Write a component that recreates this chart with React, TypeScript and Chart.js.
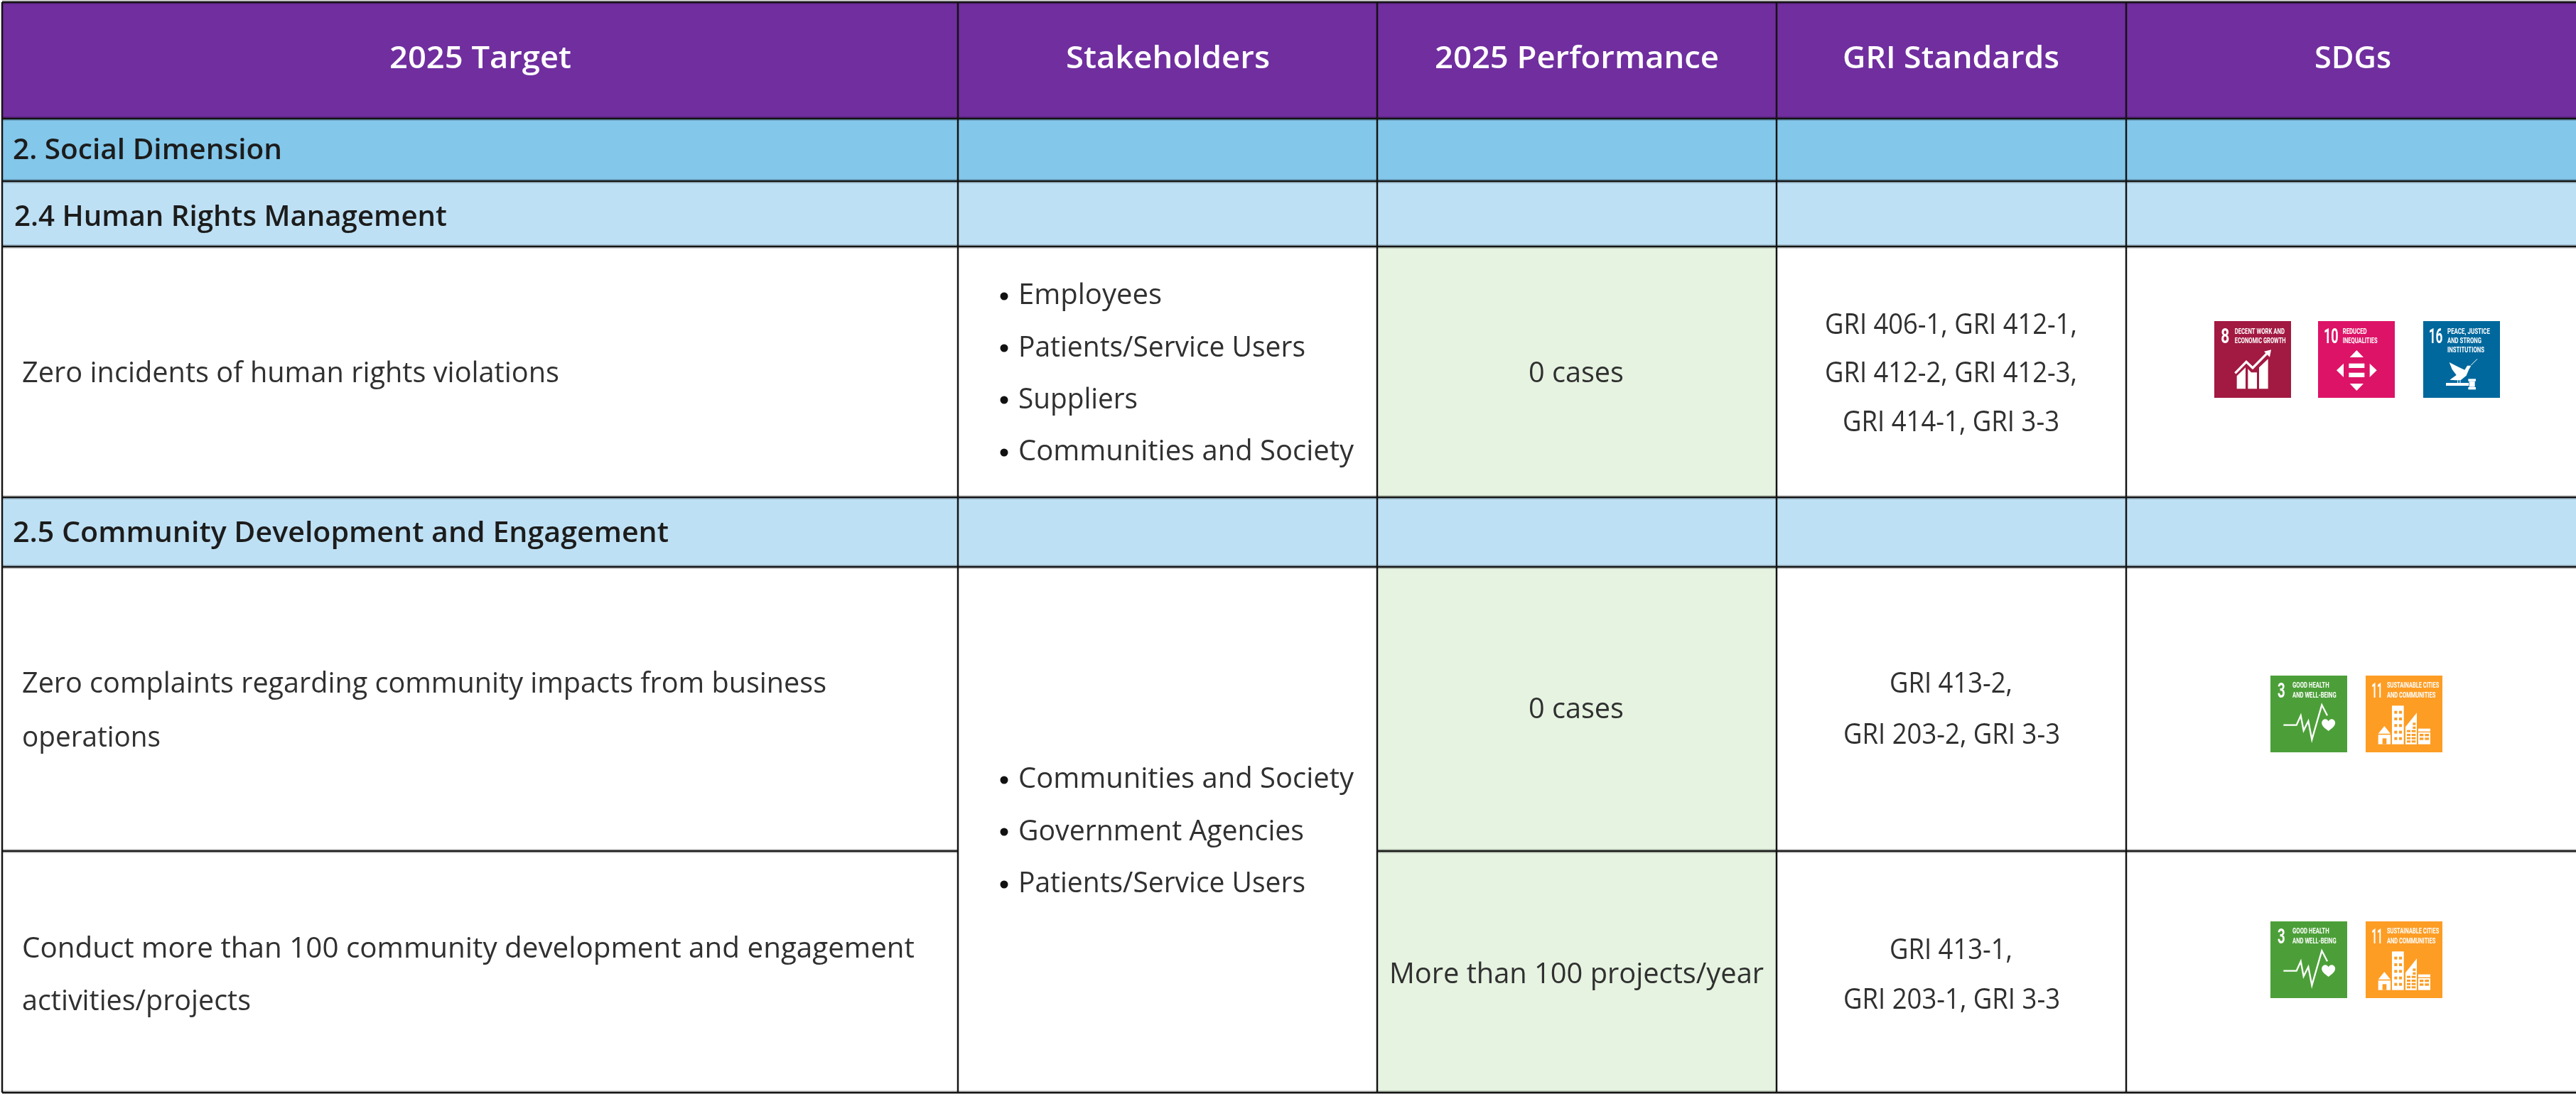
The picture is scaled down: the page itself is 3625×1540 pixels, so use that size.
import React, { useEffect, useRef } from "react";
import { Chart, registerables } from "chart.js";

Chart.register(...registerables);

// ---------- table content ----------
const headers = ["2025 Target", "Stakeholders", "2025 Performance", "GRI Standards", "SDGs"];
const sectionLabels = ["2. Social Dimension", "2.4 Human Rights Management", "2.5 Community Development and Engagement"];
const targetLines = [
  "Zero incidents of human rights violations",
  "Zero complaints regarding community impacts from business",
  "operations",
  "Conduct more than 100 community development and engagement",
  "activities/projects",
];
const stakeholderGroupA = ["Employees", "Patients/Service Users", "Suppliers", "Communities and Society"];
const stakeholderGroupB = ["Communities and Society", "Government Agencies", "Patients/Service Users"];
const performance = ["0 cases", "0 cases", "More than 100 projects/year"];
const griLines = [
  "GRI 406-1, GRI 412-1,",
  "GRI 412-2, GRI 412-3,",
  "GRI 414-1, GRI 3-3",
  "GRI 413-2,",
  "GRI 203-2, GRI 3-3",
  "GRI 413-1,",
  "GRI 203-1, GRI 3-3",
];

// ---------- layout ----------
const W = 3625;
const H = 1540;
const colEdges = [3, 1348, 1938, 2500, 2992, W];
const rowEdges = [3, 167, 255, 347, 700, 798, 1198, 1538];
const PURPLE = "#702E9F";
const BLUE = "#83C7EA";
const LIGHT = "#BEE0F4";
const GREEN = "#E5F3E0";
const WHITE = "#FFFFFF";
const rowFill = [PURPLE, BLUE, LIGHT, WHITE, LIGHT, WHITE, WHITE];
const BODY = "#303030";
const DARK = "#1C1C1C";
const FONT = "'Open Sans'";

type Item = { t: string; x0: number; x1: number; y: number; font: string; color: string };
const bodyFont = `400 40px ${FONT}`;
const headFont = `600 43px ${FONT}`;
const secFont = `600 40px ${FONT}`;

const items: Item[] = [
  { t: headers[0], x0: 548, x1: 804, y: 96, font: headFont, color: "#FFFFFF" },
  { t: headers[1], x0: 1500, x1: 1787, y: 96, font: headFont, color: "#FFFFFF" },
  { t: headers[2], x0: 2019, x1: 2419, y: 96, font: headFont, color: "#FFFFFF" },
  { t: headers[3], x0: 2593, x1: 2898, y: 96, font: headFont, color: "#FFFFFF" },
  { t: headers[4], x0: 3257, x1: 3365, y: 96, font: headFont, color: "#FFFFFF" },
  { t: sectionLabels[0], x0: 18, x1: 397, y: 224, font: secFont, color: DARK },
  { t: sectionLabels[1], x0: 20, x1: 629, y: 318, font: secFont, color: DARK },
  { t: sectionLabels[2], x0: 18, x1: 941, y: 763, font: secFont, color: DARK },
  { t: targetLines[0], x0: 31, x1: 787, y: 538, font: bodyFont, color: BODY },
  { t: targetLines[1], x0: 31, x1: 1163, y: 975, font: bodyFont, color: BODY },
  { t: targetLines[2], x0: 31, x1: 226, y: 1051, font: bodyFont, color: BODY },
  { t: targetLines[3], x0: 31, x1: 1287, y: 1348, font: bodyFont, color: BODY },
  { t: targetLines[4], x0: 31, x1: 353, y: 1422, font: bodyFont, color: BODY },
  { t: stakeholderGroupA[0], x0: 1433, x1: 1635, y: 428, font: bodyFont, color: BODY },
  { t: stakeholderGroupA[1], x0: 1433, x1: 1837, y: 502, font: bodyFont, color: BODY },
  { t: stakeholderGroupA[2], x0: 1433, x1: 1601, y: 575, font: bodyFont, color: BODY },
  { t: stakeholderGroupA[3], x0: 1433, x1: 1905, y: 648, font: bodyFont, color: BODY },
  { t: stakeholderGroupB[0], x0: 1433, x1: 1905, y: 1109, font: bodyFont, color: BODY },
  { t: stakeholderGroupB[1], x0: 1433, x1: 1835, y: 1183, font: bodyFont, color: BODY },
  { t: stakeholderGroupB[2], x0: 1433, x1: 1837, y: 1256, font: bodyFont, color: BODY },
  { t: performance[0], x0: 2151, x1: 2285, y: 538, font: bodyFont, color: BODY },
  { t: performance[1], x0: 2151, x1: 2285, y: 1011, font: bodyFont, color: BODY },
  { t: performance[2], x0: 1955, x1: 2482, y: 1384, font: bodyFont, color: BODY },
  { t: griLines[0], x0: 2568, x1: 2923, y: 470, font: bodyFont, color: BODY },
  { t: griLines[1], x0: 2568, x1: 2923, y: 538, font: bodyFont, color: BODY },
  { t: griLines[2], x0: 2593, x1: 2898, y: 607, font: bodyFont, color: BODY },
  { t: griLines[3], x0: 2659, x1: 2832, y: 975, font: bodyFont, color: BODY },
  { t: griLines[4], x0: 2594, x1: 2899, y: 1047, font: bodyFont, color: BODY },
  { t: griLines[5], x0: 2659, x1: 2832, y: 1350, font: bodyFont, color: BODY },
  { t: griLines[6], x0: 2594, x1: 2899, y: 1420, font: bodyFont, color: BODY },
];
const bulletPos = [
  [1413, 417], [1413, 490], [1413, 563], [1413, 637],
  [1413, 1098], [1413, 1171], [1413, 1245],
];

// ---------- SDG badges ----------
type Ctx = CanvasRenderingContext2D;
function fit(c: Ctx, t: string, x0: number, x1: number, y: number, font: string, color = "#fff") {
  c.font = font;
  c.fillStyle = color;
  const w = c.measureText(t).width;
  c.save();
  c.translate(x0, y);
  c.scale((x1 - x0) / w, 1);
  c.textAlign = "left";
  c.textBaseline = "alphabetic";
  c.fillText(t, 0, 0);
  c.restore();
}
const poly = (c: Ctx, p: number[]) => {
  c.beginPath();
  c.moveTo(p[0], p[1]);
  for (let i = 2; i < p.length; i += 2) c.lineTo(p[i], p[i + 1]);
  c.closePath();
  c.fill();
};
const stroke = (c: Ctx, p: number[], w: number) => {
  c.lineWidth = w;
  c.lineJoin = "miter";
  c.beginPath();
  c.moveTo(p[0], p[1]);
  for (let i = 2; i < p.length; i += 2) c.lineTo(p[i], p[i + 1]);
  c.stroke();
};
const NUM = "700 90px 'Liberation Sans Narrow', Roboto";
const CAP = "700 35px 'Liberation Sans Narrow', Roboto";

const badgeDrawers: Record<string, { color: string; draw: (c: Ctx) => void }> = {
  "8": {
    color: "#A21942",
    draw: (c) => {
      c.translate(-108, -66);
      fit(c, "8", 136, 172, 160, NUM);
      fit(c, "DECENT WORK AND", 194, 405, 120, CAP);
      fit(c, "ECONOMIC GROWTH", 194, 410, 160, CAP);
      c.fillStyle = c.strokeStyle = "#fff";
      poly(c, [203, 298, 240, 262, 240, 352, 203, 352]);
      poly(c, [250, 268, 264, 283, 288, 283, 288, 352, 250, 352]);
      poly(c, [297, 262, 335, 226, 335, 352, 297, 352]);
      stroke(c, [196, 286, 243, 238, 270, 264, 333, 200], 10);
      poly(c, [318, 194, 348, 187, 342, 218]);
    },
  },
  "10": {
    color: "#DD1367",
    draw: (c) => {
      c.translate(-546, -66);
      fit(c, "10", 570, 632, 160, NUM);
      fit(c, "REDUCED", 650, 752, 120, CAP);
      fit(c, "INEQUALITIES", 650, 797, 160, CAP);
      c.fillStyle = "#fff";
      poly(c, [680, 219, 738, 219, 709, 189]);
      poly(c, [680, 330, 738, 330, 709, 360]);
      poly(c, [654, 245, 654, 303, 624, 274]);
      poly(c, [764, 245, 764, 303, 794, 274]);
      c.fillRect(676, 245, 66, 19);
      c.fillRect(676, 284, 66, 19);
    },
  },
  "16": {
    color: "#00689D",
    draw: (c) => {
      c.translate(-990, -66);
      fit(c, "16", 1013, 1072, 160, NUM);
      fit(c, "PEACE, JUSTICE", 1092, 1272, 120, CAP);
      fit(c, "AND STRONG", 1092, 1236, 160, CAP);
      fit(c, "INSTITUTIONS", 1092, 1248, 198, CAP);
      c.fillStyle = c.strokeStyle = "#fff";
      poly(c, [1100, 240, 1135, 258, 1165, 272, 1176, 254, 1192, 254, 1182, 272, 1172, 296, 1148, 316, 1128, 316, 1102, 314, 1130, 294, 1112, 270]);
      stroke(c, [1136, 316, 1136, 330], 3);
      stroke(c, [1146, 316, 1146, 330], 3);
      stroke(c, [1192, 252, 1218, 226], 3);
      c.fillRect(1086, 327, 96, 12);
      c.fillRect(1180, 310, 32, 10);
      c.fillRect(1184, 320, 24, 24);
      c.fillRect(1180, 345, 32, 10);
    },
  },
  "3": {
    color: "#4C9F38",
    draw: (c) => {
      c.translate(-105, -63);
      fit(c, "3", 135, 167, 155, NUM);
      fit(c, "GOOD HEALTH", 198, 353, 115, CAP);
      fit(c, "AND WELL-BEING", 198, 383, 155, CAP);
      c.fillStyle = c.strokeStyle = "#fff";
      stroke(c, [160, 272, 215, 272, 233, 232, 245, 295, 265, 255, 280, 333, 322, 187, 345, 232], 7);
      c.beginPath();
      c.moveTo(350, 297);
      c.bezierCurveTo(325, 280, 318, 268, 323, 256);
      c.bezierCurveTo(330, 242, 345, 246, 350, 256);
      c.bezierCurveTo(355, 246, 370, 242, 377, 256);
      c.bezierCurveTo(382, 268, 375, 280, 350, 297);
      c.fill();
    },
  },
  "11": {
    color: "#FD9D24",
    draw: (c) => {
      c.translate(-507, -63);
      fit(c, "11", 532, 578, 155, NUM);
      fit(c, "SUSTAINABLE CITIES", 597, 817, 115, CAP);
      fit(c, "AND COMMUNITIES", 597, 802, 155, CAP);
      const O = "#FD9D24";
      c.fillStyle = "#fff";
      poly(c, [560, 308, 612, 308, 586, 276]);
      c.fillRect(560, 313, 52, 40);
      c.fillRect(618, 190, 50, 163);
      poly(c, [675, 353, 675, 280, 723, 220, 723, 353]);
      c.fillRect(729, 287, 51, 66);
      c.fillStyle = O;
      c.fillRect(578, 328, 17, 25);
      for (const wy of [212, 240, 268, 296, 323]) {
        c.fillRect(628, wy, 12, 12);
        c.fillRect(648, wy, 12, 12);
      }
      for (const wy of [293, 309, 323, 337]) {
        c.fillRect(681, wy, 15, 9);
        c.fillRect(701, wy, 17, 9);
      }
      c.fillRect(706, 262, 12, 10);
      c.fillRect(706, 278, 12, 10);
      c.fillRect(729, 299, 51, 4);
      for (const wy of [309, 325]) {
        c.fillRect(735, wy, 16, 10);
        c.fillRect(757, wy, 17, 10);
      }
    },
  },
};
const badges = [
  { id: "8", x: 3116, y: 452 },
  { id: "10", x: 3262, y: 452 },
  { id: "16", x: 3410, y: 452 },
  { id: "3", x: 3195, y: 951 },
  { id: "11", x: 3329, y: 951 },
  { id: "3", x: 3195, y: 1297 },
  { id: "11", x: 3329, y: 1297 },
];
const BADGE = 108;

// ---------- datasets ----------
const columnDatasets = [0, 1, 2, 3, 4].map((col) => ({
  type: "bar" as const,
  order: 3,
  grouped: false,
  barThickness: colEdges[col + 1] - colEdges[col],
  data: rowFill.map((_, r) => ({
    x: (colEdges[col] + colEdges[col + 1]) / 2,
    y: [rowEdges[r], rowEdges[r + 1]],
  })),
  backgroundColor: rowFill.map((f, r) => (col === 2 && (r === 3 || r === 5 || r === 6) ? GREEN : f)),
  borderWidth: 0,
}));

const seg = (x0: number, y0: number, x1: number, y1: number, w: number, color: string, order: number) => ({
  type: "line" as const,
  order,
  data: [{ x: x0, y: y0 }, { x: x1, y: y1 }],
  borderColor: color,
  borderWidth: w,
  pointRadius: 0,
  fill: false,
  tension: 0,
});
const hSegs: number[][] = rowEdges.flatMap((y, i) =>
  i === 6 ? [[colEdges[0], y, colEdges[1], y], [colEdges[2], y, W, y]] : [[colEdges[0], y, W, y]]
);
const vSegs: number[][] = colEdges.slice(0, 5).map((x) => [x, rowEdges[0], x, rowEdges[7]]);
const lineDatasets = [
  ...hSegs.map(([a, b, c, d]) => seg(a, b, c, d, 2, "#141414", 1)),
  ...vSegs.map(([a, b, c, d]) => seg(a, b, c, d, 2, "#141414", 1)),
  ...hSegs.map(([a, b, c, d]) => seg(a, b, c, d, 5, "rgba(0,0,0,0.35)", 2)),
  ...vSegs.map(([a, b, c, d]) => seg(a, b, c, d, 4, "rgba(0,0,0,0.22)", 2)),
];

const tablePlugin = {
  id: "tableText",
  afterDatasetsDraw(chart: any) {
    const c: Ctx = chart.ctx;
    const sx = chart.scales.x;
    const sy = chart.scales.y;
    c.save();
    for (const it of items) {
      fit(c, it.t, sx.getPixelForValue(it.x0), sx.getPixelForValue(it.x1), sy.getPixelForValue(it.y), it.font, it.color);
    }
    c.fillStyle = "#111";
    for (const [bx, by] of bulletPos) {
      c.beginPath();
      c.arc(sx.getPixelForValue(bx), sy.getPixelForValue(by), 5.5, 0, Math.PI * 2);
      c.fill();
    }
    for (const b of badges) {
      const d = badgeDrawers[b.id];
      const px = sx.getPixelForValue(b.x);
      const py = sy.getPixelForValue(b.y);
      c.save();
      c.fillStyle = d.color;
      c.fillRect(px, py, BADGE, BADGE);
      c.translate(px, py);
      c.scale(1 / 3, 1 / 3);
      d.draw(c);
      c.restore();
    }
    c.restore();
  },
};

export default function App() {
  const ref = useRef<HTMLCanvasElement>(null);
  useEffect(() => {
    document.body.style.margin = "0";
    document.body.style.background = "#fff";
    const chart = new Chart(ref.current as HTMLCanvasElement, {
      type: "bar",
      data: { datasets: [...lineDatasets, ...columnDatasets] as any },
      options: {
        animation: false,
        responsive: false,
        devicePixelRatio: 1,
        layout: { padding: 0 },
        scales: {
          x: { type: "linear", min: 0, max: W, display: false, offset: false },
          y: { type: "linear", min: 0, max: H, reverse: true, display: false },
        },
        plugins: { legend: { display: false }, tooltip: { enabled: false } },
      },
      plugins: [tablePlugin],
    } as any);
    return () => chart.destroy();
  }, []);
  return <canvas ref={ref} width={W} height={H} style={{ display: "block" }} />;
}
